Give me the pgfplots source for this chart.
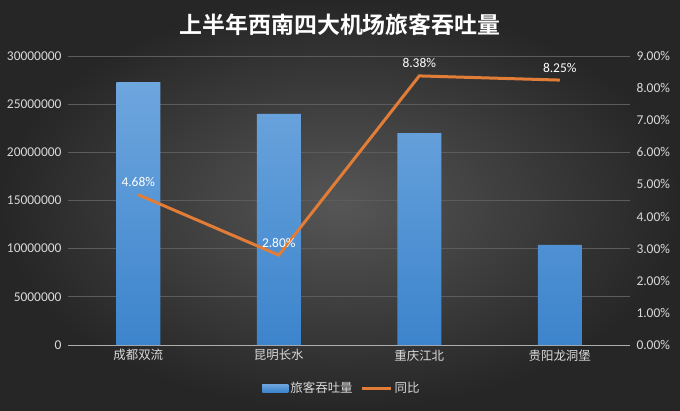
\documentclass[border=0pt]{standalone}
\usepackage{fontspec}
\setmainfont{Carlito}
\newfontfamily\cjk{Noto Sans CJK SC}
\newfontfamily\cjkb{Noto Sans CJK SC Bold}
\usepackage{pgfplots}
\pgfplotsset{compat=1.18}
\definecolor{bgin}{RGB}{86,86,86}
\definecolor{bgout}{RGB}{38,38,38}
\definecolor{barTop}{RGB}{110,166,222}
\definecolor{barBot}{RGB}{60,132,204}
\definecolor{lineOr}{RGB}{226,125,56}
\definecolor{txt}{RGB}{217,217,217}
\definecolor{gridc}{RGB}{92,92,92}
\begin{document}
\begin{tikzpicture}[x=1bp,y=1bp]
\shade[inner color=bgin, outer color=bgout] (0,0) rectangle (680,410);
\node[text=white, font=\cjkb\fontsize{23}{27}\selectfont] at (340,385) {上半年西南四大机场旅客吞吐量};
\begin{axis}[
  at={(68bp,65bp)}, anchor=south west, scale only axis,
  width=562bp, height=289bp,
  xmin=-0.5, xmax=3.5, ymin=0, ymax=30000000,
  axis x line*=bottom, axis y line*=left,
  x axis line style={draw=txt!65!gridc, line width=0.8bp, -},
  y axis line style={draw=none},
  major tick length=0pt,
  xtick={0,1,2,3},
  xticklabels={成都双流,昆明长水,重庆江北,贵阳龙洞堡},
  xticklabel style={font=\cjk\fontsize{12.5}{14}\selectfont, text=txt, yshift=-1bp},
  ytick={0,5000000,10000000,15000000,20000000,25000000,30000000},
  yticklabels={0,5000000,10000000,15000000,20000000,25000000,30000000},
  scaled y ticks=false,
  yticklabel style={font=\fontsize{13.5}{15}\selectfont, text=txt, xshift=-3bp},
  ymajorgrids, grid style={gridc, line width=0.8bp},
  legend columns=2,
  legend style={at={(0.4875,-0.149)}, anchor=center, draw=none, fill=none,
    font=\cjk\fontsize{12.5}{14}\selectfont, text=txt,
    /tikz/every even column/.append style={column sep=6bp}},
]
\addplot[ybar, bar width=44bp, draw=none, top color=barTop, bottom color=barBot,
  legend image code/.code={\fill[barBot] (0bp,-4bp) rectangle (26bp,4bp);}]
  coordinates {(0,27300000) (1,24000000) (2,22000000) (3,10400000)};
\addlegendentry{旅客吞吐量}
\addlegendimage{legend image code/.code={\draw[lineOr, line width=3bp] (0bp,0bp) -- (29bp,0bp);}}
\addlegendentry{同比}
\end{axis}
\begin{axis}[
  at={(68bp,65bp)}, anchor=south west, scale only axis,
  width=562bp, height=289bp,
  xmin=-0.5, xmax=3.5, ymin=0, ymax=9,
  axis x line=none, axis y line*=right,
  y axis line style={draw=none},
  major tick length=0pt,
  ytick={0,1,2,3,4,5,6,7,8,9},
  /pgf/number format/assume math mode=true,
  yticklabel={\pgfmathprintnumber[fixed,fixed zerofill,precision=2]{\tick}\%},
  yticklabel style={font=\fontsize{13.5}{15}\selectfont, text=txt, xshift=3bp},
]
\addplot[lineOr, line width=3bp, mark=none,
  nodes near coords={\pgfmathprintnumber[fixed,fixed zerofill,precision=2,assume math mode=true]{\pgfplotspointmeta}\%},
  every node near coord/.append style={text=white, font=\fontsize{13.5}{15}\selectfont, yshift=3bp}]
  coordinates {(0,4.68) (1,2.80) (2,8.38) (3,8.25)};
\end{axis}
\end{tikzpicture}
\end{document}
